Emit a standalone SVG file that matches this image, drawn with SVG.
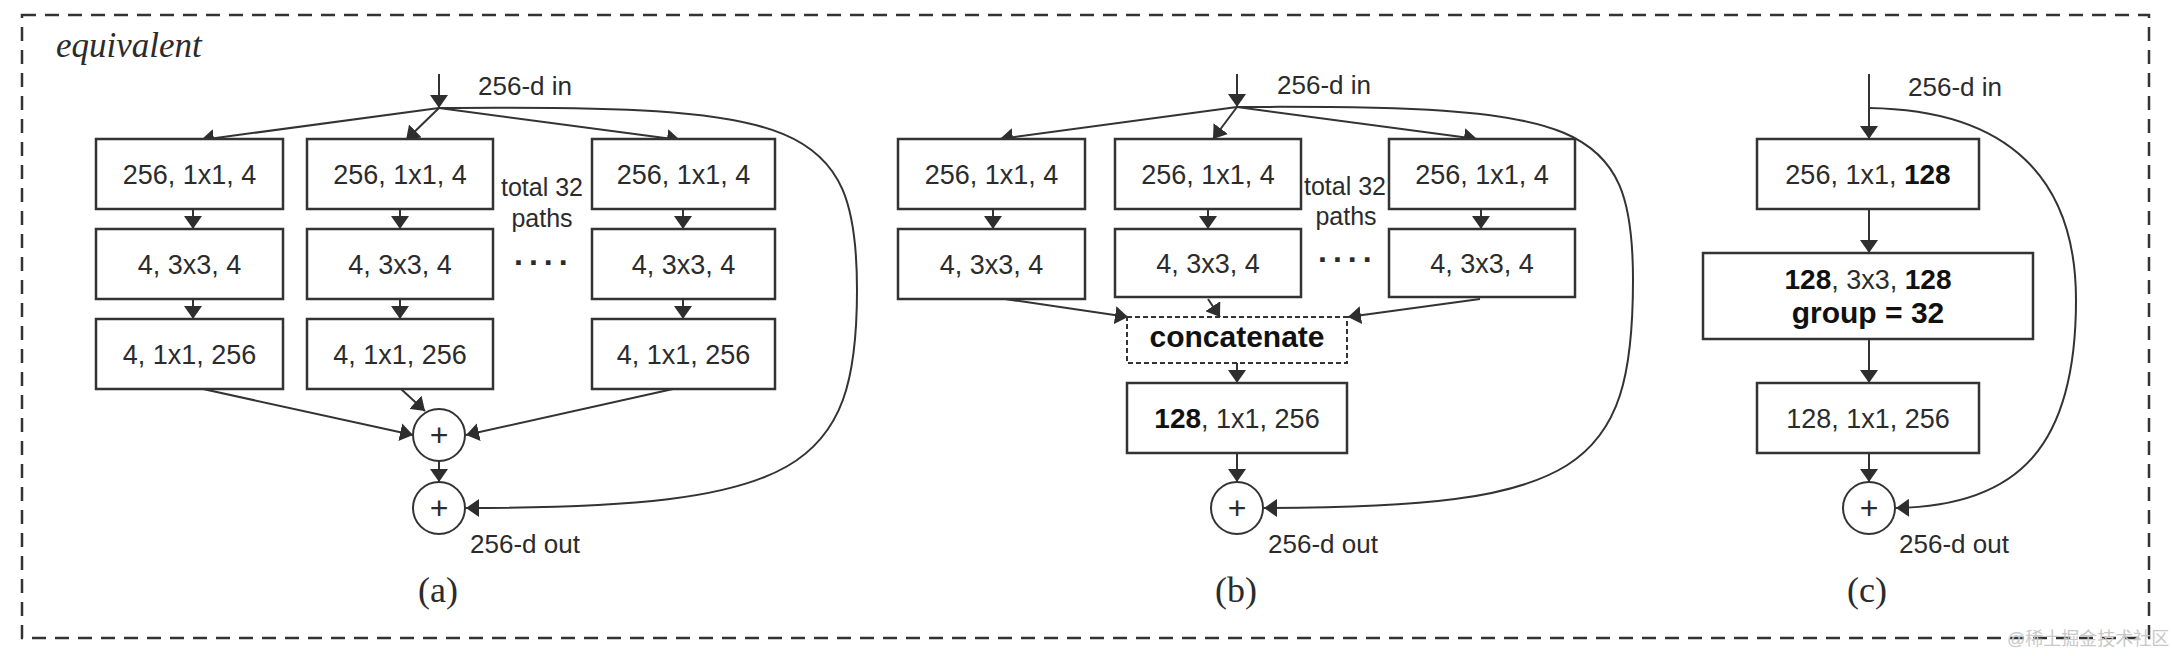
<svg xmlns="http://www.w3.org/2000/svg" width="2172" height="656" viewBox="0 0 2172 656">
<defs>
<marker id="ah" viewBox="0 0 13 18" refX="13" refY="9" markerWidth="13" markerHeight="18" markerUnits="userSpaceOnUse" orient="auto"><path d="M0,0 L13,9 L0,18 z" fill="#2e2e2e"/></marker>
</defs>
<style>
.box{fill:#fff;stroke:#333;stroke-width:2.5}
.dbox{fill:#fff;stroke:#333;stroke-width:2;stroke-dasharray:5 3}
.circ{fill:#fff;stroke:#333;stroke-width:2}
.t{font-family:'Liberation Sans',Arial,sans-serif;font-size:27px;fill:#2b2b2b;text-anchor:middle}
.lbl{font-family:'Liberation Sans',Arial,sans-serif;font-size:26px;fill:#2b2b2b}
.side{font-family:'Liberation Sans',Arial,sans-serif;font-size:25px;fill:#2b2b2b;text-anchor:middle}
.dots{font-family:'Liberation Sans',Arial,sans-serif;font-size:32px;font-weight:bold;fill:#2b2b2b;letter-spacing:6px}
.b{font-weight:bold;fill:#111}
.bt{font-family:'Liberation Sans',Arial,sans-serif;font-size:30px;font-weight:bold;fill:#111;text-anchor:middle}
.plus{font-family:'Liberation Sans',Arial,sans-serif;font-size:32px;fill:#2b2b2b;text-anchor:middle}
.ln{fill:none;stroke:#333;stroke-width:2;marker-end:url(#ah)}
.cap{font-family:'Liberation Serif','Times New Roman',serif;font-size:36px;fill:#2b2b2b;text-anchor:middle}
</style>
<rect width="2172" height="656" fill="#fff"/>
<rect id="frame" x="22" y="15" width="2127" height="623" fill="none" stroke="#333" stroke-width="2.5" stroke-dasharray="14 9"/>
<text x="56" y="57" font-family="'Liberation Serif','Times New Roman',serif" font-style="italic" font-size="35" fill="#2b2b2b">equivalent</text>

<g id="connectors">
<!-- (a) -->
<line class="ln" x1="439" y1="74" x2="439" y2="108"/>
<line class="ln" x1="439" y1="108" x2="201" y2="140"/>
<line class="ln" x1="439" y1="108" x2="406" y2="140"/>
<line class="ln" x1="439" y1="108" x2="680" y2="140"/>
<line class="ln" x1="193" y1="209" x2="193" y2="229"/>
<line class="ln" x1="193" y1="299" x2="193" y2="319"/>
<line class="ln" x1="400" y1="209" x2="400" y2="229"/>
<line class="ln" x1="400" y1="299" x2="400" y2="319"/>
<line class="ln" x1="683" y1="209" x2="683" y2="229"/>
<line class="ln" x1="683" y1="299" x2="683" y2="319"/>
<line class="ln" x1="203" y1="389" x2="413" y2="435"/>
<line class="ln" x1="401" y1="389" x2="425" y2="411"/>
<line class="ln" x1="673" y1="389" x2="466" y2="435"/>
<line class="ln" x1="439" y1="461" x2="439" y2="482"/>
<path class="ln" d="M439,108 C800,105 857,120 857,290 C857,470 800,508 466,508"/>
<!-- (b) -->
<line class="ln" x1="1237" y1="74" x2="1237" y2="107"/>
<line class="ln" x1="1237" y1="107" x2="1000" y2="139"/>
<line class="ln" x1="1237" y1="107" x2="1213" y2="139"/>
<line class="ln" x1="1237" y1="107" x2="1477" y2="139"/>
<line class="ln" x1="993" y1="209" x2="993" y2="229"/>
<line class="ln" x1="1208" y1="209" x2="1208" y2="229"/>
<line class="ln" x1="1481" y1="209" x2="1481" y2="229"/>
<line class="ln" x1="1005" y1="299" x2="1128" y2="317"/>
<line class="ln" x1="1208" y1="299" x2="1220" y2="317"/>
<line class="ln" x1="1480" y1="299" x2="1348" y2="317"/>
<line class="ln" x1="1237" y1="363" x2="1237" y2="383"/>
<line class="ln" x1="1237" y1="453" x2="1237" y2="482"/>
<path class="ln" d="M1237,107 C1580,105 1633,120 1633,280 C1633,470 1580,508 1264,508"/>
<!-- (c) -->
<line class="ln" x1="1869" y1="74" x2="1869" y2="139"/>
<line class="ln" x1="1869" y1="209" x2="1869" y2="253"/>
<line class="ln" x1="1869" y1="339" x2="1869" y2="383"/>
<line class="ln" x1="1869" y1="453" x2="1869" y2="482"/>
<path class="ln" d="M1869,108 C2010,110 2076,180 2076,300 C2076,445 2020,506 1896,508"/>
</g>

<!-- panel (a) -->
<g id="a-c1r1"><rect class="box" x="96" y="139" width="187" height="70"/><text class="t" x="189.5" y="184">256, 1x1, 4</text></g>
<g id="a-c1r2"><rect class="box" x="96" y="229" width="187" height="70"/><text class="t" x="189.5" y="274">4, 3x3, 4</text></g>
<g id="a-c1r3"><rect class="box" x="96" y="319" width="187" height="70"/><text class="t" x="189.5" y="364">4, 1x1, 256</text></g>
<g id="a-c2r1"><rect class="box" x="307" y="139" width="186" height="70"/><text class="t" x="400" y="184">256, 1x1, 4</text></g>
<g id="a-c2r2"><rect class="box" x="307" y="229" width="186" height="70"/><text class="t" x="400" y="274">4, 3x3, 4</text></g>
<g id="a-c2r3"><rect class="box" x="307" y="319" width="186" height="70"/><text class="t" x="400" y="364">4, 1x1, 256</text></g>
<g id="a-c3r1"><rect class="box" x="592" y="139" width="183" height="70"/><text class="t" x="683.5" y="184">256, 1x1, 4</text></g>
<g id="a-c3r2"><rect class="box" x="592" y="229" width="183" height="70"/><text class="t" x="683.5" y="274">4, 3x3, 4</text></g>
<g id="a-c3r3"><rect class="box" x="592" y="319" width="183" height="70"/><text class="t" x="683.5" y="364">4, 1x1, 256</text></g>
<g id="a-sum1"><circle class="circ" cx="439" cy="435" r="26"/><text class="plus" x="439" y="446">+</text></g>
<g id="a-sum2"><circle class="circ" cx="439" cy="508" r="26"/><text class="plus" x="439" y="519">+</text></g>
<g id="a-labels">
<text class="lbl" x="478" y="95">256-d in</text>
<text class="lbl" x="470" y="553">256-d out</text>
<text class="side" x="542" y="196">total 32</text>
<text class="side" x="542" y="227">paths</text>
<text class="dots" x="514" y="265">....</text>
<text class="cap" x="438" y="602">(a)</text>
</g>

<!-- panel (b) -->
<g id="b-c1r1"><rect class="box" x="898" y="139" width="187" height="70"/><text class="t" x="991.5" y="184">256, 1x1, 4</text></g>
<g id="b-c1r2"><rect class="box" x="898" y="229" width="187" height="70"/><text class="t" x="991.5" y="274">4, 3x3, 4</text></g>
<g id="b-c2r1"><rect class="box" x="1115" y="139" width="186" height="70"/><text class="t" x="1208" y="184">256, 1x1, 4</text></g>
<g id="b-c2r2"><rect class="box" x="1115" y="229" width="186" height="68"/><text class="t" x="1208" y="273">4, 3x3, 4</text></g>
<g id="b-c3r1"><rect class="box" x="1389" y="139" width="186" height="70"/><text class="t" x="1482" y="184">256, 1x1, 4</text></g>
<g id="b-c3r2"><rect class="box" x="1389" y="229" width="186" height="68"/><text class="t" x="1482" y="273">4, 3x3, 4</text></g>
<g id="b-concat"><rect class="dbox" x="1127" y="317" width="220" height="46"/><text class="bt" x="1237" y="347">concatenate</text></g>
<g id="b-out"><rect class="box" x="1127" y="383" width="220" height="70"/><text class="t" x="1237" y="428"><tspan class="b" font-size="28">128</tspan>, 1x1, 256</text></g>
<g id="b-sum"><circle class="circ" cx="1237" cy="508" r="26"/><text class="plus" x="1237" y="519">+</text></g>
<g id="b-labels">
<text class="lbl" x="1277" y="94">256-d in</text>
<text class="lbl" x="1268" y="553">256-d out</text>
<text class="side" x="1345" y="195">total 32</text>
<text class="side" x="1346" y="225">paths</text>
<text class="dots" x="1318" y="262">....</text>
<text class="cap" x="1236" y="602">(b)</text>
</g>

<!-- panel (c) -->
<g id="c-1"><rect class="box" x="1757" y="139" width="222" height="70"/><text class="t" x="1868" y="184">256, 1x1, <tspan class="b" font-size="28">128</tspan></text></g>
<g id="c-2"><rect class="box" x="1703" y="253" width="330" height="86"/><text class="t" x="1868" y="289"><tspan class="b" font-size="28">128</tspan>, 3x3, <tspan class="b" font-size="28">128</tspan></text><text class="bt" x="1868" y="323">group = 32</text></g>
<g id="c-3"><rect class="box" x="1757" y="383" width="222" height="70"/><text class="t" x="1868" y="428">128, 1x1, 256</text></g>
<g id="c-sum"><circle class="circ" cx="1869" cy="508" r="26"/><text class="plus" x="1869" y="519">+</text></g>
<g id="c-labels">
<text class="lbl" x="1908" y="96">256-d in</text>
<text class="lbl" x="1899" y="553">256-d out</text>
<text class="cap" x="1867" y="602">(c)</text>
</g>

<text x="2007" y="645" font-family="'Liberation Sans','Noto Sans CJK SC',sans-serif" font-size="18" fill="#c8c8c8">@稀土掘金技术社区</text>
</svg>
